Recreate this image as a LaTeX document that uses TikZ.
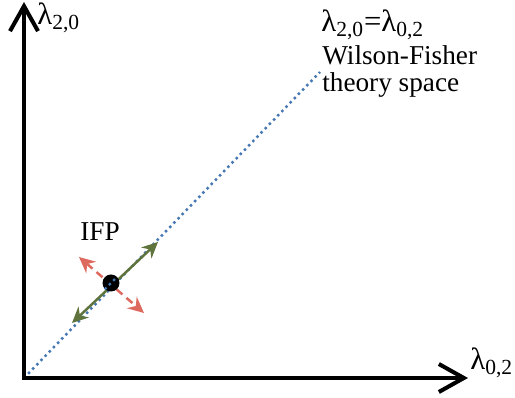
\documentclass[tikz,border=0pt]{standalone}
\usepackage{fontspec}
\setmainfont{Liberation Serif}
\usetikzlibrary{arrows.meta,positioning,calc}
\definecolor{axisblack}{RGB}{0,0,0}
\definecolor{diagblue}{RGB}{70,120,180}
\definecolor{flowgreen}{RGB}{95,115,60}
\definecolor{flowred}{RGB}{222,105,95}

\begin{document}
\begin{tikzpicture}[
  x=0.02cm,y=-0.02cm,
  axis/.style={line width=2.3pt,draw=axisblack,-{Straight Barb[length=5mm,width=5.6mm,line width=2.3pt]}},
  diag/.style={draw=diagblue,line width=1.4pt,dotted},
  relevant/.style={draw=flowgreen,line width=1.4pt,{Stealth[length=3.2mm,width=3mm]}-{Stealth[length=3.2mm,width=3mm]}},
  irrelevant/.style={draw=flowred,line width=1.4pt,dash pattern=on 4.5pt off 3pt,{Stealth[length=3.2mm,width=3mm]}-{Stealth[length=3.2mm,width=3mm]}},
  lbl/.style={inner sep=0pt,font=\fontsize{15.5}{17}\selectfont},
  axlbl/.style={inner sep=0pt,font=\fontsize{17.5}{20}\selectfont}
]
\useasboundingbox (0,0) rectangle (515,398);
% axes and diagonal
\coordinate (O) at (24,378);
\coordinate (ytip) at (24,2);
\coordinate (xtip) at (468,378);
\coordinate (diagend) at (320,72);
\draw[diag] (O) -- (diagend);
\draw[axis] ($(O)+(0,2)$) -- (ytip);
\draw[axis] ($(O)+(-2,0)$) -- (xtip);
% fixed point and flows
\coordinate (gb) at (72,323);
\coordinate (ga) at (158,242);
\coordinate (ra) at (79,257);
\coordinate (rb) at (144,313);
\draw[irrelevant] (ra) -- (rb);
\draw[relevant] (gb) -- (ga);
\node[circle,fill=black,minimum size=0.34cm,inner sep=0pt] (ifp) at (111,283) {};
\draw[diag] (ifp.south west) -- (ifp.north east);
% labels
\node[axlbl,anchor=base west] (ylab) at (37,25) {λ\textsubscript{2,0}};
\node[axlbl,anchor=base west] (xlab) at (470,370) {λ\textsubscript{0,2}};
\node[axlbl,anchor=base west] (eqlab) at (321,32) {λ\textsubscript{2,0}=λ\textsubscript{0,2}};
\node[lbl,anchor=base west] (wf) at (322,65) {Wilson-Fisher};
\node[lbl,anchor=base west] (ts) at (322,92) {theory space};
\node[lbl,anchor=base west] (ifplab) at (80,241) {IFP};
\end{tikzpicture}
\end{document}
